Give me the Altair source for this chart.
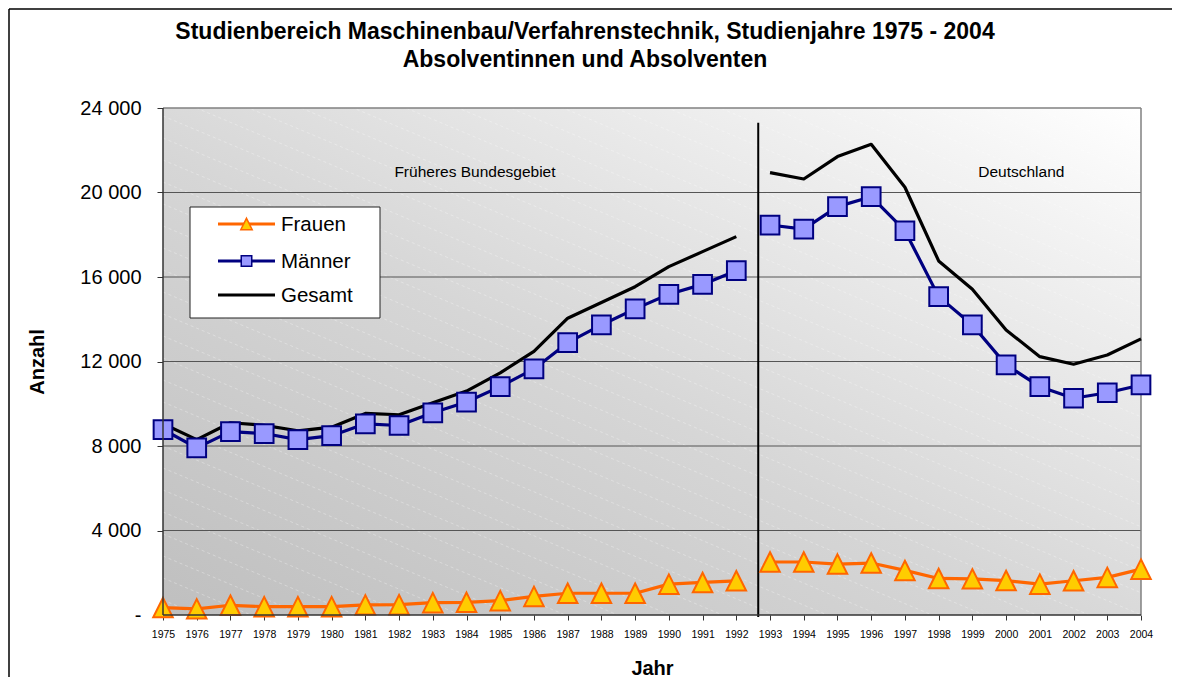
import altair as alt
import pandas as pd

# ---------------- data ----------------
years = list(range(1975, 2005))
frauen = [350, 290, 460, 395, 395, 395, 480, 490, 585, 600, 680, 880, 1030, 1030, 1030,
          1460, 1540, 1620, 2510, 2510, 2410, 2460, 2110, 1730, 1710, 1630, 1460, 1620, 1780, 2170]
maenner = [8780, 7910, 8680, 8590, 8300, 8490, 9050, 8970, 9570, 10080, 10810, 11650, 12890, 13730, 14490,
           15180, 15650, 16300, 18460, 18270, 19330, 19800, 18190, 15070, 13730, 11840, 10810, 10260, 10520, 10890]
gesamt = [9050, 8300, 9100, 8980, 8720, 8890, 9540, 9480, 10050, 10600, 11460, 12480, 14050, 14790, 15540,
          16490, 17200, 17910, 20940, 20640, 21700, 22280, 20250, 16760, 15420, 13490, 12230, 11870, 12310, 13070]
y_ticks = [0, 4000, 8000, 12000, 16000, 20000, 24000]
grid_values = [4000, 8000, 12000, 16000, 20000]
series_names = ["Frauen", "Männer", "Gesamt"]
title_lines = ["Studienbereich Maschinenbau/Verfahrenstechnik, Studienjahre 1975 - 2004",
               "Absolventinnen und Absolventen"]
region_labels = ["Früheres Bundesgebiet", "Deutschland"]
region_x = [1984.25, 2000.45]
region_y = [20950, 20950]
divider_year = 1992.65
divider_top = 23300
last_west_year = 1992

# ---------------- layout / style ----------------
W, H = 978, 507
FONT = "Liberation Sans"
ORANGE, GOLD = "#FF6600", "#FFCC00"
NAVY, LAVENDER = "#000080", "#9999FF"
TRI = "M0,-1L1,1L-1,1Z"

rows = []
for name, vals in zip(series_names, [frauen, maenner, gesamt]):
    for yr, v in zip(years, vals):
        rows.append({"Jahr": yr, "Anzahl": v, "Serie": name,
                     "Gebiet": "West" if yr <= last_west_year else "Deutschland"})
df = pd.DataFrame(rows)

xs = alt.Scale(domain=[1975, 2004], nice=False, zero=False)
ys = alt.Scale(domain=[0, 24000], nice=False, zero=True)

x_axis = alt.Axis(
    values=years, format="d", labelFont=FONT, labelFontSize=10.5, labelColor="black",
    tickSize=5, tickColor="#333333", labelPadding=9, domain=False, grid=False,
    labelOverlap=False, labelFlush=False, labelBound=False, title="Jahr", titleFont=FONT,
    titleFontSize=20, titleFontWeight="bold", titleColor="black", titleY=53, titleBaseline="middle")
y_axis = alt.Axis(
    values=y_ticks, labelExpr="datum.value == 0 ? '-' : replace(format(datum.value, ','), ',', ' ')",
    labelFont=FONT, labelFontSize=20, labelColor="black", tickSize=6, tickColor="#333333",
    labelPadding=16, domain=False, grid=False, labelOverlap=False, title="Anzahl", titleFont=FONT,
    titleFontSize=20, titleFontWeight="bold", titleColor="black", titleAngle=270, titleX=-126,
    titleY=H / 2, titleAlign="center", titleBaseline="middle")
x_enc = alt.X("Jahr:Q", scale=xs, axis=x_axis)
y_enc = alt.Y("Anzahl:Q", scale=ys, axis=y_axis)

one = alt.Data(values=[{}])

# plot background gradient
bg = alt.Chart(one).mark_rect(
    fill=alt.Gradient(gradient="linear", x1=0, y1=1, x2=1, y2=0,
                      stops=[alt.GradientStop(color="#BFBFBF", offset=0),
                             alt.GradientStop(color="#D6D6D6", offset=0.45),
                             alt.GradientStop(color="#F3F3F3", offset=0.85),
                             alt.GradientStop(color="#FFFFFF", offset=1)])
).encode(x=alt.value(0), x2=alt.value(W), y=alt.value(0), y2=alt.value(H))

# faint diagonal hatch texture of the plot area (decoration only)
slope = 0.42
hatch_rows = []
c = -int(W * slope)
while c < H:
    hatch_rows.append({"x0": 0, "y0": c, "x1": W, "y1": c + W * slope})
    c += 22
hatch = alt.Chart(pd.DataFrame(hatch_rows)).mark_rule(
    color="white", strokeWidth=1, strokeDash=[3, 3], opacity=0.3, clip=True
).encode(x=alt.X("x0:Q", scale=None), x2="x1:Q", y=alt.Y("y0:Q", scale=None), y2="y1:Q")

grid = alt.Chart(pd.DataFrame({"Anzahl": grid_values})).mark_rule(
    color="#555555", strokeWidth=1).encode(y=y_enc)

border_top = alt.Chart(one).mark_rule(color="#808080", strokeWidth=1.5).encode(
    x=alt.value(0), x2=alt.value(W), y=alt.value(0))
border_right = alt.Chart(one).mark_rule(color="#808080", strokeWidth=1.5).encode(
    x=alt.value(W), y=alt.value(0), y2=alt.value(H))
border_left = alt.Chart(one).mark_rule(color="#333333", strokeWidth=1.5).encode(
    x=alt.value(0), y=alt.value(0), y2=alt.value(H))
border_bottom = alt.Chart(one).mark_rule(color="#333333", strokeWidth=1.5).encode(
    x=alt.value(0), x2=alt.value(W), y=alt.value(H))

divider = alt.Chart(one).mark_rule(color="black", strokeWidth=2).encode(
    x=alt.XDatum(divider_year, type="quantitative", axis=x_axis),
    y=alt.YDatum(divider_top, type="quantitative", axis=y_axis), y2=alt.value(H + 2))

regions = alt.Chart(pd.DataFrame({"Jahr": region_x, "Anzahl": region_y, "t": region_labels})).mark_text(
    font=FONT, fontSize=15.5, color="black", baseline="middle", align="center").encode(
    x=x_enc, y=y_enc, text="t:N")

def series_line(name, color):
    return alt.Chart(df[df["Serie"] == name]).mark_line(
        color=color, strokeWidth=3.2, strokeJoin="round").encode(
        x=x_enc, y=y_enc, detail="Gebiet:N")

g_line = series_line("Gesamt", "black")
m_line = series_line("Männer", NAVY)
f_line = series_line("Frauen", ORANGE)

m_pts = alt.Chart(df[df["Serie"] == "Männer"]).mark_point(
    shape="square", filled=True, fill=LAVENDER, stroke=NAVY, strokeWidth=2, size=350, opacity=1).encode(
    x=x_enc, y=y_enc)
f_pts = alt.Chart(df[df["Serie"] == "Frauen"]).mark_point(
    shape=TRI, filled=True, fill=GOLD, stroke=ORANGE, strokeWidth=2, size=380, opacity=1).encode(
    x=x_enc, y=y_enc)

# legend (manual)
LX0, LX1, LY0, LY1 = 27, 217, 99, 210
leg_rows = [116, 153, 187]
leg_box = alt.Chart(one).mark_rect(fill="white", stroke="#222222", strokeWidth=1).encode(
    x=alt.value(LX0), x2=alt.value(LX1), y=alt.value(LY0), y2=alt.value(LY1))
leg_layers = [leg_box]
leg_colors = [ORANGE, NAVY, "black"]
for i, name in enumerate(series_names):
    leg_layers.append(alt.Chart(one).mark_rule(color=leg_colors[i], strokeWidth=3.2).encode(
        x=alt.value(55), x2=alt.value(112), y=alt.value(leg_rows[i])))
    leg_layers.append(alt.Chart(one).mark_text(
        text=name, font=FONT, fontSize=20.5, align="left", baseline="middle", color="black").encode(
        x=alt.value(118), y=alt.value(leg_rows[i] + 1)))
leg_layers.append(alt.Chart(one).mark_point(
    shape=TRI, filled=True, fill=GOLD, stroke=ORANGE, strokeWidth=1.5, size=130, opacity=1).encode(
    x=alt.value(83.5), y=alt.value(leg_rows[0])))
leg_layers.append(alt.Chart(one).mark_point(
    shape="square", filled=True, fill=LAVENDER, stroke=NAVY, strokeWidth=1.5, size=110, opacity=1).encode(
    x=alt.value(83.5), y=alt.value(leg_rows[1])))

# titles
title_layers = []
for i, t in enumerate(title_lines):
    title_layers.append(alt.Chart(one).mark_text(
        text=t, font=FONT, fontSize=23, fontWeight="bold", align="center", baseline="middle",
        color="black").encode(x=alt.value(422), y=alt.value(-76 + 28 * i)))

outer_left = alt.Chart(one).mark_rule(color="black", strokeWidth=1.5).encode(
    x=alt.value(-154), y=alt.value(-99), y2=alt.value(H + 300))
outer_top = alt.Chart(one).mark_rule(color="black", strokeWidth=1.5).encode(
    x=alt.value(-154), x2=alt.value(W + 300), y=alt.value(-99))

chart = alt.layer(
    bg, hatch, grid, border_top, border_right, divider, regions,
    g_line, m_line, m_pts, f_line, f_pts,
    border_left, border_bottom,
    *leg_layers, *title_layers, outer_left, outer_top
).properties(
    width=W, height=H,
    autosize=alt.AutoSizeParams(type="none"),
    padding={"left": 155, "top": 100, "right": 31, "bottom": 62},
    background="white"
).configure_view(stroke=None).configure_axis(labelOverlap=False)

chart.save("out.html", embed_options={"renderer": "svg", "actions": False})
